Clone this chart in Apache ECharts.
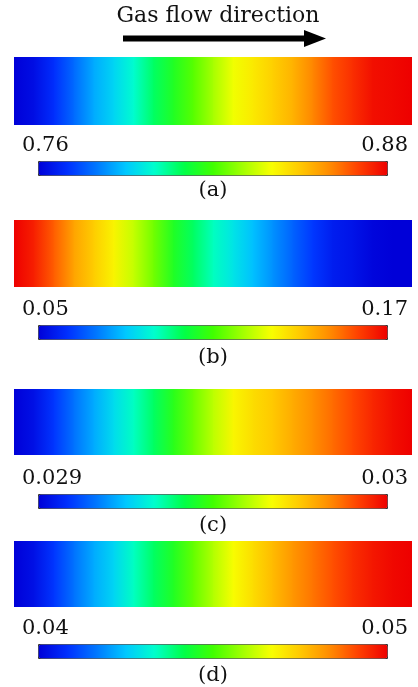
<!DOCTYPE html>
<html>
<head>
<meta charset="utf-8">
<script src="https://cdn.jsdelivr.net/npm/echarts@6/dist/echarts.min.js"></script>
<style>
  html, body { margin: 0; padding: 0; background: #fff; }
  #chart { width: 418px; height: 687px; }
</style>
</head>
<body>
<div id="chart"></div>
<script>
// position along the channel, 0 = gas inlet (left), 1 = outlet (right)
const positions = [0, 0.05, 0.1, 0.15, 0.2, 0.25, 0.3, 0.35, 0.4, 0.45, 0.5,
  0.55, 0.6, 0.65, 0.7, 0.75, 0.8, 0.85, 0.9, 0.95, 1];

// field values
const valuesA = [0.7600, 0.7630, 0.7696, 0.7780, 0.7864, 0.7924, 0.7996, 0.8080, 0.8152, 0.8224, 0.8308,
  0.8392, 0.8440, 0.8488, 0.8536, 0.8608, 0.8680, 0.8728, 0.8776, 0.8788, 0.8800];
const valuesB = [0.170, 0.165, 0.156, 0.146, 0.139, 0.132, 0.124, 0.115, 0.105, 0.098, 0.091,
  0.085, 0.079, 0.073, 0.067, 0.061, 0.056, 0.054, 0.051, 0.050, 0.050];
const valuesC = [0.02900, 0.02903, 0.02909, 0.02916, 0.02922, 0.02928, 0.02934, 0.02940, 0.02947, 0.02954, 0.02961,
  0.02968, 0.02972, 0.02975, 0.02979, 0.02983, 0.02987, 0.02991, 0.02995, 0.02998, 0.03000];
const valuesD = [0.0400, 0.0403, 0.0409, 0.0416, 0.0422, 0.0427, 0.0434, 0.0440, 0.0446, 0.0453, 0.0460,
  0.0467, 0.0472, 0.0477, 0.0482, 0.0486, 0.0490, 0.0494, 0.0497, 0.0499, 0.0500];

// colour bar ranges and their end labels
const rangeA = [0.76, 0.88];
const rangeB = [0.05, 0.17];
const rangeC = [0.029, 0.03];
const rangeD = [0.04, 0.05];
const tickLabelsA = ['0.76', '0.88'];
const tickLabelsB = ['0.05', '0.17'];
const tickLabelsC = ['0.029', '0.03'];
const tickLabelsD = ['0.04', '0.05'];
const captions = ['(a)', '(b)', '(c)', '(d)'];
const titleText = 'Gas flow direction';

// rainbow colour map, low -> high
const palette = ['#0000d8', '#0030ff', '#0078ff', '#00c8ff', '#00ffcc', '#00ff48', '#40ff00',
  '#a0ff00', '#f8ff00', '#ffc800', '#ff8c00', '#ff4000', '#ee0000'];

const FONT = '"DejaVu Serif", "Liberation Serif", serif';

// layout of each panel (px)
const layout = [
  { barTop: 57, barH: 68, cbTop: 161, capY: 191 },
  { barTop: 220, barH: 67, cbTop: 325, capY: 358 },
  { barTop: 389, barH: 66, cbTop: 494, capY: 526 },
  { barTop: 541, barH: 66, cbTop: 644, capY: 676 }
];
const panels = [
  { values: valuesA, range: rangeA, labels: tickLabelsA },
  { values: valuesB, range: rangeB, labels: tickLabelsB },
  { values: valuesC, range: rangeC, labels: tickLabelsC },
  { values: valuesD, range: rangeD, labels: tickLabelsD }
];

function colorOf(v, range) {
  let t = (v - range[0]) / (range[1] - range[0]);
  t = Math.max(0, Math.min(1, t));
  return echarts.color.lerp(t, palette);
}

function makeRender(values, range) {
  return function (params, api) {
    const k = params.dataIndex;
    if (k >= positions.length - 1) return null;
    const p0 = api.coord([api.value(0), 1]);
    const p1 = api.coord([positions[k + 1], 0]);
    const last = k === positions.length - 2;
    return {
      type: 'rect',
      shape: { x: p0[0], y: p0[1], width: p1[0] - p0[0] + (last ? 0 : 1), height: p1[1] - p0[1] },
      style: {
        fill: new echarts.graphic.LinearGradient(0, 0, 1, 0, [
          { offset: 0, color: colorOf(values[k], range) },
          { offset: 1, color: colorOf(values[k + 1], range) }
        ])
      }
    };
  };
}

const grid = [], xAxis = [], yAxis = [], series = [], visualMap = [];
const graphic = [];

panels.forEach((p, i) => {
  const L = layout[i];
  const g = i * 3;
  // strip
  grid.push({ left: 14, top: L.barTop, width: 398, height: L.barH });
  // end labels
  grid.push({ left: 22, top: L.cbTop - 5, width: 386, height: 1 });
  // colour bar ticks
  grid.push({ left: 38, top: L.cbTop, width: 349, height: 14 });

  xAxis.push({ gridIndex: g, type: 'value', min: 0, max: 1, show: false });
  xAxis.push({
    gridIndex: g + 1, type: 'value', min: 0, max: 1, interval: 1, position: 'top',
    axisLine: { show: false }, axisTick: { show: false }, splitLine: { show: false },
    axisLabel: {
      margin: 0, fontFamily: FONT, fontSize: 21, color: '#111',
      alignMinLabel: 'left', alignMaxLabel: 'right',
      formatter: v => (v === 0 ? p.labels[0] : p.labels[1])
    }
  });
  xAxis.push({
    gridIndex: g + 2, type: 'value', min: 0, max: 10, interval: 1, position: 'top',
    axisLine: { show: false }, splitLine: { show: false }, axisLabel: { show: false },
    axisTick: { show: true, length: 3, lineStyle: { color: '#777', width: 1 } }
  });
  for (let j = 0; j < 3; j++) {
    yAxis.push({ gridIndex: g + j, type: 'value', min: 0, max: 1, show: false });
  }

  series.push({
    type: 'custom',
    xAxisIndex: g, yAxisIndex: g,
    renderItem: makeRender(p.values, p.range),
    data: positions.map((x, k) => [x, p.values[k]]),
    silent: true
  });

  visualMap.push({
    type: 'continuous', seriesIndex: i, dimension: 1,
    min: p.range[0], max: p.range[1],
    orient: 'horizontal', left: 38, top: L.cbTop,
    itemWidth: 14, itemHeight: 349,
    calculable: false, text: null, padding: 0,
    borderColor: '#333', borderWidth: 1,
    hoverLink: false,
    inRange: { color: palette }
  });

  graphic.push({
    type: 'text', x: 213, y: L.capY,
    style: { text: captions[i], font: '21px ' + FONT, fill: '#111', align: 'center', verticalAlign: 'middle' }
  });
});

// title and flow arrow
graphic.push({
  type: 'text', x: 218, y: 16,
  style: { text: titleText, font: '22px ' + FONT, fill: '#111', align: 'center', verticalAlign: 'middle' }
});
graphic.push({
  type: 'rect', shape: { x: 123, y: 35.5, width: 186, height: 6 }, style: { fill: '#000' }
});
graphic.push({
  type: 'polygon', shape: { points: [[304, 30], [326, 38.5], [304, 47]] }, style: { fill: '#000' }
});

const chart = echarts.init(document.getElementById('chart'), null, { renderer: 'canvas' });
chart.setOption({
  animation: false,
  backgroundColor: '#fff',
  grid, xAxis, yAxis, series, visualMap, graphic
});
</script>
</body>
</html>
